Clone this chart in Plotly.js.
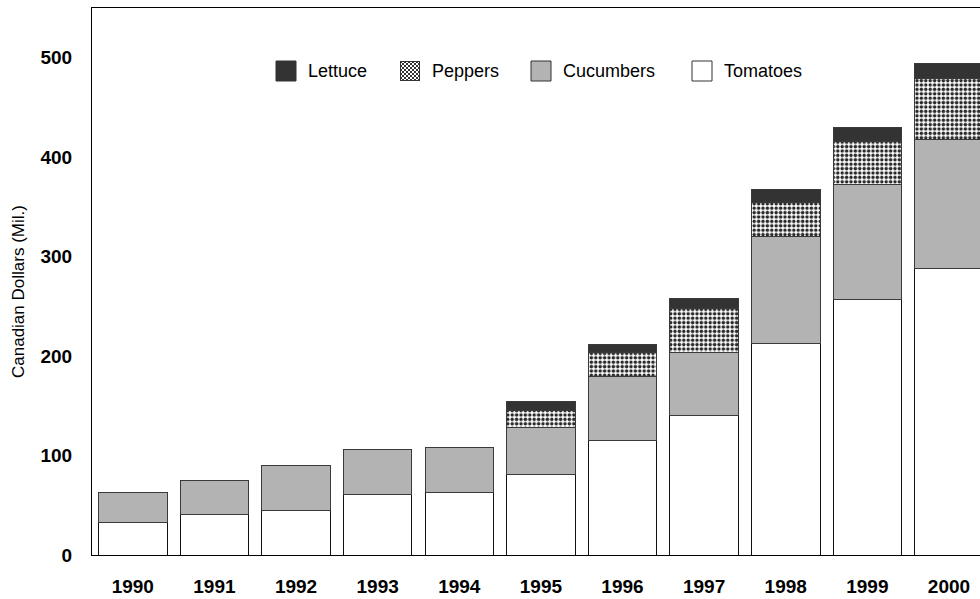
<!DOCTYPE html>
<html>
<head>
<meta charset="utf-8">
<script src="https://cdn.plot.ly/plotly-3.0.1.min.js"></script>
<style>html,body{margin:0;padding:0;background:#fff;}#chart{width:980px;height:599px;}</style>
</head>
<body>
<div id="chart"></div>
<script>
const years = ['1990','1991','1992','1993','1994','1995','1996','1997','1998','1999','2000'];
const tomatoes  = [33, 41, 45, 61, 63, 81, 115, 140, 213, 257, 288];
const cucumbers = [30, 34, 45, 45, 45, 47.5, 64, 64, 107, 116, 130];
const peppers   = [null, null, null, null, null, 16.5, 24.7, 43.5, 34.2, 42.6, 61];
const lettuce   = [null, null, null, null, null, 9.2, 7.8, 10.7, 13.6, 14.1, 15.4];
const seriesNames = ['Lettuce', 'Peppers', 'Cucumbers', 'Tomatoes'];
const yTickVals = [0, 100, 200, 300, 400, 500];
const yTitle = 'Canadian Dollars (Mil.)';

const FONT = 'Liberation Sans, Arial, sans-serif';
const W = 980, H = 599;
const mL = 92, mR = 0, mT = 8, mB = 44;
const plotW = W - mL - mR, plotH = H - mT - mB;
const px2x = p => (p - mL) / plotW;
const px2y = p => (H - mB - p) / plotH;

const outline = {color: '#3a3a3a', width: 1};
const traces = [
  {type: 'bar', name: 'Tomatoes', x: years, y: tomatoes,
   marker: {color: '#ffffff', line: {color: '#111', width: 1}}},
  {type: 'bar', name: 'Cucumbers', x: years, y: cucumbers,
   marker: {color: '#b3b3b3', line: outline}},
  {type: 'bar', name: 'Peppers', x: years, y: peppers,
   marker: {color: '#333333', line: outline,
            pattern: {shape: '.', size: 4.4, solidity: 0.5, fgcolor: '#2a2a2a', bgcolor: '#ffffff', fillmode: 'replace'}}},
  {type: 'bar', name: 'Lettuce', x: years, y: lettuce,
   marker: {color: '#333333', line: outline}}
];

// custom legend (swatches sized like the reference)
const legendFill = {Lettuce: '#333333', Cucumbers: '#b3b3b3', Tomatoes: '#ffffff'};
const swatchX = [276, 400, 531, 692];
const swatchSize = 20;
const legendCY = 71;
const shapes = [];
const annotations = [];
const images = [];
seriesNames.forEach((n, i) => {
  const x0 = swatchX[i], x1 = x0 + swatchSize;
  const y0 = legendCY - swatchSize / 2, y1 = legendCY + swatchSize / 2;
  if (n === 'Peppers') {
    const svg = "<svg xmlns='http://www.w3.org/2000/svg' width='20' height='20'><defs><pattern id='p' width='4' height='4' patternUnits='userSpaceOnUse'><rect width='4' height='4' fill='white'/><rect width='2' height='2' fill='#333'/><rect x='2' y='2' width='2' height='2' fill='#333'/></pattern></defs><rect x='0.5' y='0.5' width='19' height='19' fill='url(#p)' stroke='#333' stroke-width='1'/></svg>";
    images.push({source: 'data:image/svg+xml;charset=utf-8,' + encodeURIComponent(svg),
      xref: 'paper', yref: 'paper', x: px2x(x0), y: px2y(y0),
      sizex: swatchSize / plotW, sizey: swatchSize / plotH,
      xanchor: 'left', yanchor: 'top', sizing: 'stretch', layer: 'above'});
  } else {
    shapes.push({type: 'rect', xref: 'paper', yref: 'paper',
      x0: px2x(x0), x1: px2x(x1), y0: px2y(y1), y1: px2y(y0),
      fillcolor: legendFill[n], line: {color: '#333', width: 1}});
  }
  annotations.push({xref: 'paper', yref: 'paper', x: px2x(x1 + 10), y: px2y(legendCY),
    xanchor: 'left', yanchor: 'middle', showarrow: false, text: n,
    font: {family: FONT, size: 18, color: '#000'}});
});

// y-axis title placed like the reference (slightly below plot centre)
annotations.push({xref: 'paper', yref: 'paper', x: px2x(18), y: px2y(292),
  xanchor: 'center', yanchor: 'middle', showarrow: false, textangle: -90,
  text: yTitle, font: {family: FONT, size: 17, color: '#000'}});

const layout = {
  width: W, height: H,
  margin: {l: mL, r: mR, t: mT, b: mB, pad: 0},
  paper_bgcolor: '#fff', plot_bgcolor: '#fff',
  barmode: 'stack', bargap: 0.16,
  showlegend: false,
  font: {family: FONT, color: '#000'},
  xaxis: {type: 'category', range: [-0.5, 10.38], showgrid: false, zeroline: false,
          showline: true, linecolor: '#000', linewidth: 1, mirror: true,
          ticks: '', ticklabelstandoff: 14,
          tickfont: {family: FONT, size: 19, color: '#000', weight: 'bold'}, fixedrange: true},
  yaxis: {range: [0, 550], tickvals: yTickVals, showgrid: false, zeroline: false,
          showline: true, linecolor: '#000', linewidth: 1, ticks: '', ticklabelstandoff: 15,
          tickfont: {family: FONT, size: 19, color: '#000', weight: 'bold'},
          automargin: false, fixedrange: true},
  shapes: shapes, annotations: annotations, images: images
};

Plotly.newPlot('chart', traces, layout, {displayModeBar: false, staticPlot: true});
</script>
</body>
</html>
